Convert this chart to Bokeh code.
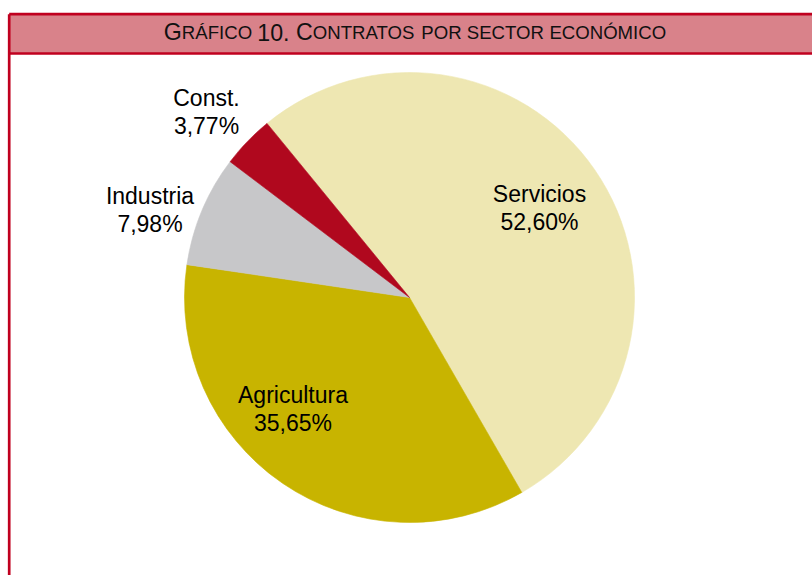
import math
from bokeh.plotting import figure
from bokeh.models import ColumnDataSource, Range1d
from bokeh.core.properties import value
from bokeh.embed import file_html
from bokeh.resources import INLINE

# ---- data ----
sectors = ["Servicios", "Agricultura", "Industria", "Const."]
shares = [52.60, 35.65, 7.98, 3.77]
colors = ["#EEE7B2", "#C8B400", "#C7C7C9", "#B0081E"]
title_text = "Gráfico 10. Contratos por sector económico"

# ---- layout ----
W, H = 812, 575
FONT = "Liberation Sans"
TDY = 9.5  # text baseline correction


def px(X, Y):
    """page pixel -> data coords"""
    return X, H - Y


p = figure(width=W, height=H, output_backend="svg", toolbar_location=None,
           x_range=Range1d(0, W), y_range=Range1d(0, H), min_border=0)
p.axis.visible = False
p.grid.visible = False
p.outline_line_color = None
p.background_fill_color = "white"
p.border_fill_color = "white"

# frame + title bar
border = "#C0001F"
bx0, by0 = px(8.7, 13.7)
_, by1 = px(0, 53)
p.quad(left=[bx0], right=[W + 30], top=[by0], bottom=[by1],
       fill_color="#D9828A", line_color=None)
p.segment(x0=[bx0, bx0, bx0], y0=[by0, by0, by1], x1=[bx0, W + 30, W + 30],
          y1=[-20, by0, by1], line_color=border, line_width=2.7)

# title in small caps built from pieces
AW = {'A': 667, 'Á': 667, 'B': 667, 'C': 722, 'D': 722, 'E': 667, 'F': 611, 'G': 778,
      'H': 722, 'I': 278, 'J': 500, 'K': 667, 'L': 556, 'M': 833, 'N': 722, 'O': 778,
      'Ó': 778, 'P': 667, 'Q': 778, 'R': 722, 'S': 667, 'T': 611, 'U': 722, 'V': 667,
      'W': 944, 'X': 667, 'Y': 667, 'Z': 611, '.': 278}
for d in "0123456789":
    AW[d] = 556
BIG, SMALL = 23.2, 18.6
tokens = []
xx = 0.0
cur = {"t": "", "s": None, "x": 0.0}


def flush():
    if cur["t"]:
        tokens.append((cur["t"], cur["s"], cur["x"]))
    cur["t"] = ""
    cur["s"] = None


for i, ch in enumerate(title_text):
    if ch == " ":
        flush()
        sz = SMALL if i > 0 and title_text[i - 1].islower() else BIG
        xx += 0.278 * sz
        continue
    sz = SMALL if ch.islower() else BIG
    if sz != cur["s"]:
        flush()
        cur["s"] = sz
        cur["x"] = xx
    cur["t"] += ch.upper()
    xx += AW.get(ch.upper(), 600) / 1000 * sz
flush()

cx, base = px(414.5, 41 - TDY)
x_off = cx - xx / 2
for t, sz, tx in tokens:
    p.text(x=[x_off + tx], y=[base], text=[t], text_font=value(FONT),
           text_font_size=f"{sz}px", text_color="#111111",
           text_align="left", text_baseline="alphabetic")

# pie
pcx, pcy = px(409, 297)
R = 225
theta0 = -39.3  # degrees clockwise from top where first slice starts
starts, ends = [], []
cum = 0.0
tot = sum(shares)
for s in shares:
    a0 = theta0 + cum / tot * 360
    cum += s
    a1 = theta0 + cum / tot * 360
    starts.append(math.radians(90 - a0))
    ends.append(math.radians(90 - a1))
src = ColumnDataSource(dict(sector=sectors, share=shares, color=colors,
                            start=starts, end=ends))
p.wedge(x=pcx, y=pcy, radius=R, start_angle="start", end_angle="end",
        direction="clock", fill_color="color", line_color="color",
        line_width=0.6, source=src)

# labels
label_pos = [(539, 203), (292.5, 404), (149.5, 205), (206, 107)]
LS = 28
for name, v, (X, Y) in zip(sectors, shares, label_pos):
    lx, ly = px(X, Y - TDY)
    pct = f"{v:.2f}".replace(".", ",") + "%"
    p.text(x=[lx, lx], y=[ly, ly - LS], text=[name, pct], text_font=value(FONT),
           text_font_size="23px", text_color="#000000",
           text_align="center", text_baseline="alphabetic")

open("out.html", "w").write(file_html(p, INLINE))
